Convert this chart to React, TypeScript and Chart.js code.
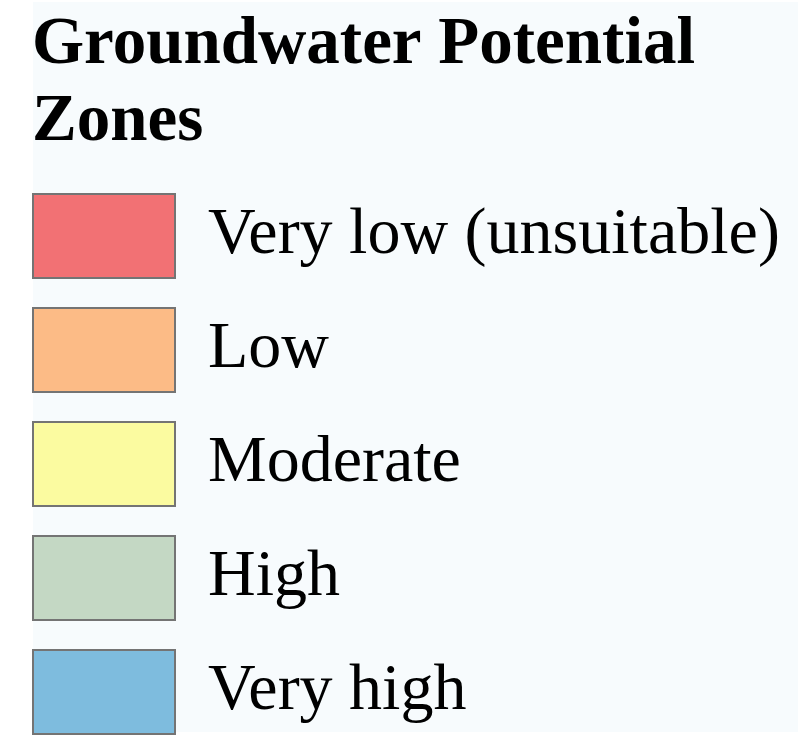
import React, { useEffect, useRef } from "react";
import { Chart, registerables } from "chart.js";

Chart.register(...registerables);

const TITLE_LINES = ["Groundwater Potential", "Zones"];
const ZONE_LABELS = ["Very low (unsuitable)", "Low", "Moderate", "High", "Very high"];
const ZONE_COLORS = ["#f27174", "#fcbb86", "#fbfba0", "#c4d8c4", "#7ebcde"];

const SERIF = "'Liberation Serif', 'Times New Roman', Times, serif";
const LABEL_SIZE = 66;
const ROW_LINE = 113;

const panelPlugin = {
  id: "panelBackground",
  beforeDraw(chart: any) {
    const ctx = chart.ctx;
    ctx.save();
    ctx.fillStyle = "#f7fbfd";
    ctx.fillRect(33, 2, 765, 730);
    ctx.restore();
  },
};

export default function App() {
  const ref = useRef<HTMLCanvasElement | null>(null);

  useEffect(() => {
    if (!ref.current) return;
    const chart = new Chart(ref.current, {
      type: "bar",
      data: {
        labels: [],
        datasets: ZONE_LABELS.map((label, i) => ({
          label,
          data: [],
          backgroundColor: ZONE_COLORS[i],
          borderColor: "#747474",
          borderWidth: 2,
        })),
      },
      options: {
        responsive: false,
        animation: false,
        events: [],
        layout: { padding: { left: 32, top: 0, right: 0, bottom: 0 } },
        scales: {
          x: { display: false },
          y: { display: false },
        },
        plugins: {
          tooltip: { enabled: false },
          title: { display: false },
          legend: {
            display: true,
            position: "chartArea",
            align: "start",
            title: {
              display: true,
              text: TITLE_LINES,
              position: "start",
              color: "#000000",
              font: { family: SERIF, size: 67, weight: "bold", lineHeight: 1.15 },
              padding: { top: 11.9, bottom: 104.05 },
            },
            labels: {
              boxWidth: 142,
              boxHeight: 84,
              padding: 1,
              color: "#000000",
              font: {
                family: SERIF,
                size: LABEL_SIZE,
                weight: "normal",
                lineHeight: ROW_LINE / LABEL_SIZE,
              },
              generateLabels(chart: any) {
                return chart.data.datasets.map((ds: any, i: number) => ({
                  text: [ds.label],
                  fillStyle: ds.backgroundColor,
                  strokeStyle: ds.borderColor,
                  lineWidth: ds.borderWidth,
                  fontColor: "#000000",
                  hidden: false,
                  datasetIndex: i,
                }));
              },
            },
          },
        },
      } as any,
      plugins: [panelPlugin],
    });
    return () => chart.destroy();
  }, []);

  return (
    <div
      style={{
        position: "fixed",
        left: 0,
        top: 0,
        width: 800,
        height: 737,
        overflow: "hidden",
        background: "#ffffff",
      }}
    >
      <canvas ref={ref} width={800} height={780} style={{ display: "block" }} />
    </div>
  );
}
